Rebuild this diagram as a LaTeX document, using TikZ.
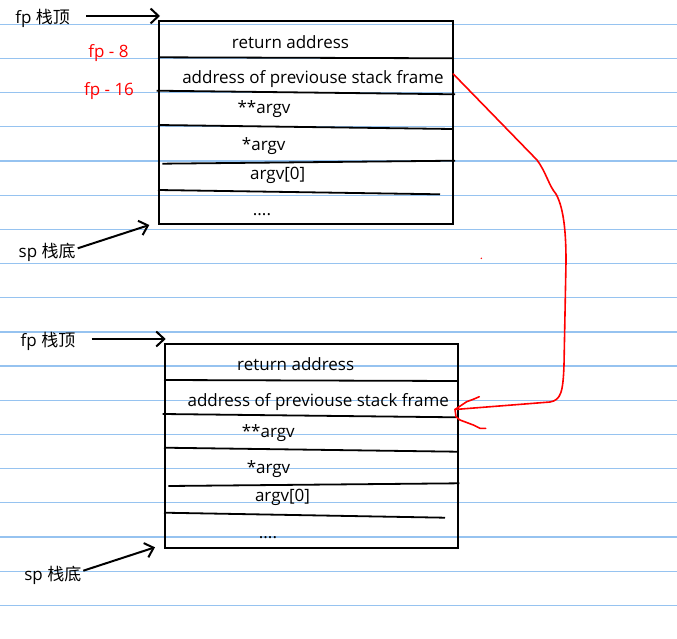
\documentclass[tikz,border=0pt]{standalone}
\usepackage{fontspec}
\setmainfont{Open Sans}
\newfontfamily\cjk{Noto Sans CJK SC}
\usetikzlibrary{arrows.meta}
\definecolor{rulecol}{RGB}{150,195,240}
\definecolor{pen}{RGB}{255,0,0}
\begin{document}
\begin{tikzpicture}[x=1pt,y=-1pt,
  txt/.style={font=\fontsize{17pt}{20pt}\selectfont, inner sep=0pt, anchor=base},
  redtxt/.style={txt, text=pen},
  frame/.style={draw, line width=2pt, inner sep=0pt, anchor=north west},
  divider/.style={line width=1.8pt},
  ptr/.style={line width=2pt, -{Straight Barb[length=8pt,width=15pt]}},
  ruling/.style={draw=rulecol, line width=1.3pt},
  link/.style={draw=pen, line width=1.6pt, line join=round, line cap=round}]
\useasboundingbox (0,0) rectangle (677,639);
\fill[white] (0,0) rectangle (677,639);
\foreach \k in {0,...,17} \draw[ruling] (0,{24.3+34.18*\k}) -- (677,{24.3+34.18*\k});

% ---------- upper frame ----------
\node[frame, minimum width=294pt, minimum height=203.3pt] (boxA) at (158.3,20) {};
\draw[divider] (158,57.3) -- (452,58.3);
\draw[divider] (156.7,90.7) -- (455,94.3);
\draw[divider] (158,125) -- (452,129);
\draw[divider] (162.3,163.7) -- (455,160.7);
\draw[divider] (158,190) -- (440,194.3);
\node[txt] (retA) at (290.5,48.3) {return address};
\node[txt] (prevA) at (313,83.3) {address of previouse stack frame};
\node[txt] (ppA) at (264,113.3) {**argv};
\node[txt] (pA) at (263.7,150.7) {*argv};
\node[txt] (a0A) at (277.7,180) {argv[0]};
\node[txt] (dotsA) at (262,215) {....};
\node[txt] (fpA) at (42.7,23.3) {fp {\cjk 栈顶}};
\node[redtxt] (m8) at (108.5,57.3) {fp - 8};
\node[redtxt] (m16) at (109,95.7) {fp - 16};
\node[txt] (spA) at (47.2,257.3) {sp {\cjk 栈底}};
\coordinate (fpAs) at (86,16);
\coordinate (fpAt) at (160,16);
\coordinate (spAs) at (77.7,248.3);
\coordinate (spAt) at (149.3,225);
\draw[ptr] (fpAs) -- (fpAt);
\draw[ptr] (spAs) -- (spAt);

% ---------- lower frame ----------
\node[frame, minimum width=292.4pt, minimum height=204pt] (boxB) at (164.3,343.3) {};
\draw[divider] (164,380) -- (457,381);
\draw[divider] (162.7,414) -- (456,417.3);
\draw[divider] (164,447.7) -- (457,451.7);
\draw[divider] (168.3,486) -- (459.3,483.3);
\draw[divider] (164,512.7) -- (445,517.7);
\node[txt] (retB) at (295.7,370) {return address};
\node[txt] (prevB) at (318.3,406) {address of previouse stack frame};
\node[txt] (ppB) at (268.2,437.3) {**argv};
\node[txt] (pB) at (268.5,473.3) {*argv};
\node[txt] (a0B) at (282.5,501.7) {argv[0]};
\node[txt] (dotsB) at (268,538.3) {....};
\node[txt] (fpB) at (48,346.7) {fp {\cjk 栈顶}};
\node[txt] (spB) at (52.8,580) {sp {\cjk 栈底}};
\coordinate (fpBs) at (91.7,339);
\coordinate (fpBt) at (165.7,339);
\coordinate (spBs) at (83.3,570.7);
\coordinate (spBt) at (155,547.3);
\draw[ptr] (fpBs) -- (fpBt);
\draw[ptr] (spBs) -- (spBt);

% ---------- red link ----------
\coordinate (linkS) at (453.3,74);
\coordinate (linkT) at (455,409.5);
\draw[link] (linkS) -- (537,160) .. controls (546,172) and (549,186) .. (556,194)
  .. controls (565,210) and (566,240) .. (566,262) -- (564,365)
  .. controls (563,392) and (561,400) .. (550,402) -- (linkT);
\draw[link] (linkT) -- (466.7,401.7) -- (473.3,399.3) -- (479.3,396.7);
\draw[link] (linkT) -- (456,416.7) -- (460,420) -- (473.3,425) -- (480,428.3) -- (485.7,428.3);
\fill[pen] (481.3,258.3) circle (0.8pt);
\end{tikzpicture}
\end{document}
